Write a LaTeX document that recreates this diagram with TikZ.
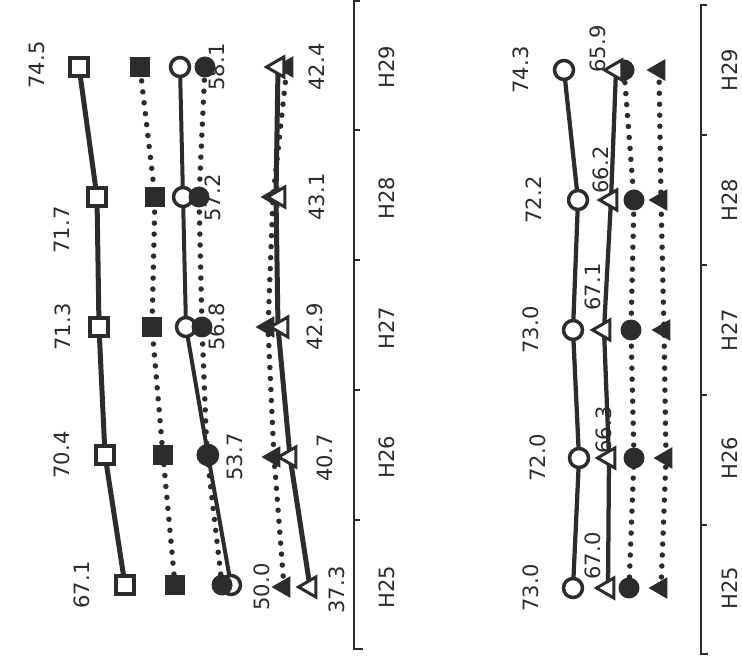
\documentclass[tikz,border=0pt]{standalone}
\usepackage{fontspec}
\setmainfont{DejaVu Sans}
\usetikzlibrary{shapes.geometric}
\definecolor{ink}{HTML}{2C2C2C}

\begin{document}
\begin{tikzpicture}[x=0.02cm,y=-0.02cm,
    ln/.style={ink,line width=0.1cm,line join=round},
    dt/.style={ink,line width=0.11cm,line cap=round,dash pattern=on 0pt off 0.22cm},
    osq/.style={draw=ink,fill=white,line width=0.07cm,minimum size=0.36cm,inner sep=0pt},
    fsq/.style={fill=ink,minimum size=0.4cm,inner sep=0pt},
    ocir/.style={circle,draw=ink,fill=white,line width=0.07cm,minimum size=0.38cm,inner sep=0pt},
    fcir/.style={circle,fill=ink,minimum size=0.42cm,inner sep=0pt},
    otri/.style={regular polygon,regular polygon sides=3,shape border rotate=90,draw=ink,fill=white,line width=0.06cm,minimum size=0.46cm,inner sep=0pt},
    ftri/.style={regular polygon,regular polygon sides=3,shape border rotate=90,fill=ink,minimum size=0.5cm,inner sep=0pt},
    val/.style={rotate=90,text=ink,inner sep=0pt,font=\fontsize{12}{14}\selectfont},
    axis/.style={ink,line width=0.03cm}]
  \useasboundingbox (0,0) rectangle (742,661);

  % left panel: axis
  \draw[axis] (360,1) -- (354,1) -- (354,649) -- (363,649);
  \foreach \t in {130,260,390,520}
    \draw[axis] (354,\t) -- (360,\t);
  \foreach \y/\t [count=\i] in {587/H25,457/H26,328/H27,198/H28,67/H29}
    \node[val] (catl\i) at (387,\y) {\t};

  % left panel: lines
  \draw[ln] plot coordinates {(125,585) (105,455) (99,327) (97,197) (79,67)};
  \draw[dt] plot coordinates {(175,585) (163,455) (152,327) (155,197) (140,67)};
  \draw[ln,line width=0.08cm] plot coordinates {(231,585) (208,455) (186,327) (183,197) (180,67)};
  \draw[dt] plot coordinates {(222,585) (207,455) (202,327) (199,197) (205,67)};
  \draw[ln] plot coordinates {(310,587) (290,457) (278,327) (276,197) (278,67)};
  \draw[dt] plot coordinates {(284,587) (274,457) (268,327) (273,197) (287,67)};

  % left panel: markers
  \foreach \x/\y [count=\i] in {125/585,105/455,99/327,97/197,79/67}
    \node[osq] (osq\i) at (\x,\y) {};
  \foreach \x/\y [count=\i] in {175/585,163/455,152/327,155/197,140/67}
    \node[fsq] (fsq\i) at (\x,\y) {};
  \foreach \x/\y [count=\i] in {231/585,208/455,186/327,183/197,180/67}
    \node[ocir] (ocl\i) at (\x,\y) {};
  \foreach \x/\y [count=\i] in {222/585,207/455,202/327,199/197,205/67}
    \node[fcir] (fcl\i) at (\x,\y) {};
  \foreach \x/\y [count=\i] in {284/587,274/457,268/327,273/197,287/67}
    \node[ftri] (ftl\i) at (\x,\y) {};
  \foreach \x/\y [count=\i] in {310/587,290/457,282/327,279/197,278/67}
    \node[otri] (otl\i) at (\x,\y) {};

  % left panel: values
  \foreach \x/\y/\t [count=\i] in {82/585/67.1,62/455/70.4,63/327/71.3,62/230/71.7,37/65/74.5}
    \node[val] (sqv\i) at (\x,\y) {\t};
  \foreach \x/\y/\t [count=\i] in {262/587/50.0,235/457/53.7,217/327/56.8,213/198/57.2,217/67/58.1}
    \node[val] (civ\i) at (\x,\y) {\t};
  \foreach \x/\y/\t [count=\i] in {337/590/37.3,325/458/40.7,315/327/42.9,317/197/43.1,317/67/42.4}
    \node[val] (trv\i) at (\x,\y) {\t};

  % right panel: axis
  \draw[axis] (707,5) -- (701,5) -- (701,654) -- (708,654);
  \foreach \t in {135,265,395,525}
    \draw[axis] (701,\t) -- (707,\t);
  \foreach \y/\t [count=\i] in {588/H25,458/H26,330/H27,200/H28,70/H29}
    \node[val] (catr\i) at (730,\y) {\t};

  % right panel: lines
  \draw[ln,line width=0.085cm] plot coordinates {(573,588) (579,458) (573,330) (578,200) (564,70)};
  \draw[ln,line width=0.085cm] plot coordinates {(608,588) (609,458) (604,330) (611,200) (616,70)};
  \draw[dt] plot coordinates {(629,588) (634,458) (631,330) (634,200) (624,70)};
  \draw[dt] plot coordinates {(661,588) (666,458) (664,330) (661,200) (659,70)};

  % right panel: markers
  \foreach \x/\y [count=\i] in {573/588,579/458,573/330,578/200,564/70}
    \node[ocir] (ocr\i) at (\x,\y) {};
  \foreach \x/\y [count=\i] in {629/588,634/458,631/330,634/200,624/70}
    \node[fcir] (fcr\i) at (\x,\y) {};
  \foreach \x/\y [count=\i] in {608/588,609/458,604/330,611/200,616/70}
    \node[otri] (otr\i) at (\x,\y) {};
  \foreach \x/\y [count=\i] in {661/588,666/458,664/330,661/200,659/70}
    \node[ftri] (ftr\i) at (\x,\y) {};

  % right panel: values
  \foreach \x/\y/\t [count=\i] in {531/588/73.0,538/458/72.0,531/330/73.0,534/200/72.2,521/70/74.3}
    \node[val] (crv\i) at (\x,\y) {\t};
  \foreach \x/\y/\t [count=\i] in {593/556/67.0,604/430/66.3,593/287/67.1,601/170/66.2,598/49/65.9}
    \node[val] (trr\i) at (\x,\y) {\t};
\end{tikzpicture}
\end{document}
